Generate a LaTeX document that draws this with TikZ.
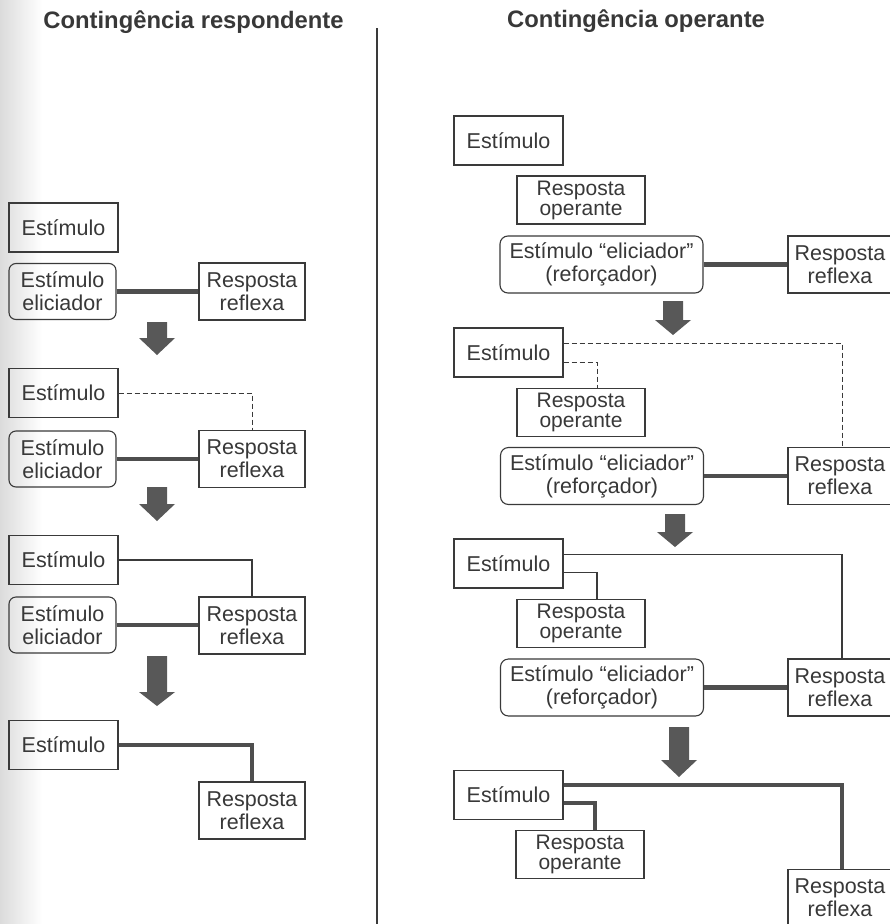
\documentclass[tikz,border=0pt]{standalone}
\usepackage{fontspec}
\setmainfont{Liberation Sans}
\definecolor{ln}{HTML}{3A3A3A}
\definecolor{tx}{HTML}{383838}
\definecolor{thk}{HTML}{4E4E4E}
\definecolor{arr}{HTML}{585858}
\newcommand\blockarr[4]{\fill[arr] (#1-10,#2) -- (#1+10,#2) -- (#1+10,#3) -- (#1+18,#3) -- (#1,#4) -- (#1-18,#3) -- (#1-10,#3) -- cycle;}
\begin{document}
\begin{tikzpicture}[x=1pt,y=-1pt,
  box/.style={draw=ln,line width=1.1pt,inner sep=0pt,align=center,text=tx,
    font=\fontsize{21.5}{23}\selectfont},
  estbox/.style={box,minimum width=109pt,minimum height=49pt},
  elibox/.style={box,rounded corners=7pt,minimum width=107pt,minimum height=56pt},
  rrbox/.style={box,minimum width=106pt,minimum height=57pt},
  opbox/.style={box,minimum width=128pt,minimum height=48pt,font=\fontsize{21}{20}\selectfont},
  relbox/.style={box,rounded corners=8pt,minimum width=203pt,minimum height=57pt},
  rrrbox/.style={box,minimum width=104pt,minimum height=57pt},
  thinline/.style={draw=ln,line width=1.1pt},
  dashline/.style={draw=ln,line width=1pt,dash pattern=on 5pt off 3pt},
  thickline/.style={draw=thk,line width=4.5pt},
  head/.style={font=\bfseries\fontsize{23.8}{27}\selectfont,text=tx,anchor=base,inner sep=0pt}
]
\useasboundingbox (0,0) rectangle (890,924);
\fill[white] (0,0) rectangle (890,924);
\shade[left color=black!14,right color=white] (0,0) rectangle (42,924);
\clip (0,0) rectangle (890,924);

% headers and divider
\node[head] (h1) at (193.5,28) {Contingência respondente};
\node[head] (h2) at (636,27) {Contingência operante};
\coordinate (dtop) at (377,28);
\coordinate (dbot) at (377,924);
\draw[draw=ln,line width=2pt] (dtop) -- (dbot);

% ---------------- left column ----------------
\node[estbox] (E1) at (63.5,227.5) {Estímulo};
\node[elibox] (L1) at (62.5,291.5) {Estímulo\\eliciador};
\node[rrbox]  (R1) at (252,291.5) {Resposta\\reflexa};
\draw[thickline] (L1.east) -- (L1.east -| R1.west);
\blockarr{157}{322}{338}{355}

\node[estbox] (E2) at (63.5,393) {Estímulo};
\node[elibox] (L2) at (62.5,459) {Estímulo\\eliciador};
\node[rrbox]  (R2) at (252,459) {Resposta\\reflexa};
\draw[thickline] (L2.east) -- (L2.east -| R2.west);
\draw[dashline] (E2.east) -| (R2.north);
\blockarr{157}{487}{504}{521}

\node[estbox] (E3) at (63.5,560) {Estímulo};
\node[elibox] (L3) at (62.5,625) {Estímulo\\eliciador};
\node[rrbox]  (R3) at (252,625.5) {Resposta\\reflexa};
\draw[thickline] (L3.east) -- (L3.east -| R3.west);
\draw[thinline] (E3.east) -| (R3.north);
\blockarr{157}{656}{692}{706}

\node[estbox] (E4) at (63.5,745) {Estímulo};
\node[rrbox]  (R4) at (252,810.5) {Resposta\\reflexa};
\draw[thickline] (E4.east) -| (R4.north);

% ---------------- right column ----------------
\node[estbox] (RE1) at (508.5,140.5) {Estímulo};
\node[opbox]  (RO1) at (581,200) {Resposta\\operante};
\node[relbox] (RL1) at (601.5,264.5) {Estímulo “eliciador”\\(reforçador)};
\node[rrrbox] (RR1) at (840,264.5) {Resposta\\reflexa};
\draw[thickline] (RL1.east) -- (RL1.east -| RR1.west);
\blockarr{673}{301}{320}{335}

\node[estbox] (RE2) at (508.5,352.5) {Estímulo};
\node[opbox]  (RO2) at (581,412.5) {Resposta\\operante};
\node[relbox] (RL2) at (602,476) {Estímulo “eliciador”\\(reforçador)};
\node[rrrbox] (RR2) at (840,476) {Resposta\\reflexa};
\draw[thickline] (RL2.east) -- (RL2.east -| RR2.west);
\draw[dashline] ([yshift=9.5pt]RE2.east) -| ([xshift=2pt]RR2.north);
\draw[dashline] ([yshift=-9.5pt]RE2.east) -| ([xshift=16pt]RO2.north);
\blockarr{675}{514}{532}{547}

\node[estbox] (RE3) at (508.5,563.5) {Estímulo};
\node[opbox]  (RO3) at (581,623.5) {Resposta\\operante};
\node[relbox] (RL3) at (602,687.5) {Estímulo “eliciador”\\(reforçador)};
\node[rrrbox] (RR3) at (840,687.5) {Resposta\\reflexa};
\draw[thickline] (RL3.east) -- (RL3.east -| RR3.west);
\draw[thinline] ([yshift=9pt]RE3.east) -| ([xshift=2pt]RR3.north);
\draw[thinline] ([yshift=-9pt]RE3.east) -| ([xshift=16pt]RO3.north);
\blockarr{679}{727}{760}{777}

\node[estbox] (RE4) at (508.5,795) {Estímulo};
\node[opbox]  (RO4) at (580,854.5) {Resposta\\operante};
\node[rrrbox] (RR4) at (840,898) {Resposta\\reflexa};
\draw[thickline] ([yshift=10pt]RE4.east) -| ([xshift=2pt]RR4.north);
\draw[thickline] ([yshift=-8pt]RE4.east) -| ([xshift=15pt]RO4.north);
\end{tikzpicture}
\end{document}
